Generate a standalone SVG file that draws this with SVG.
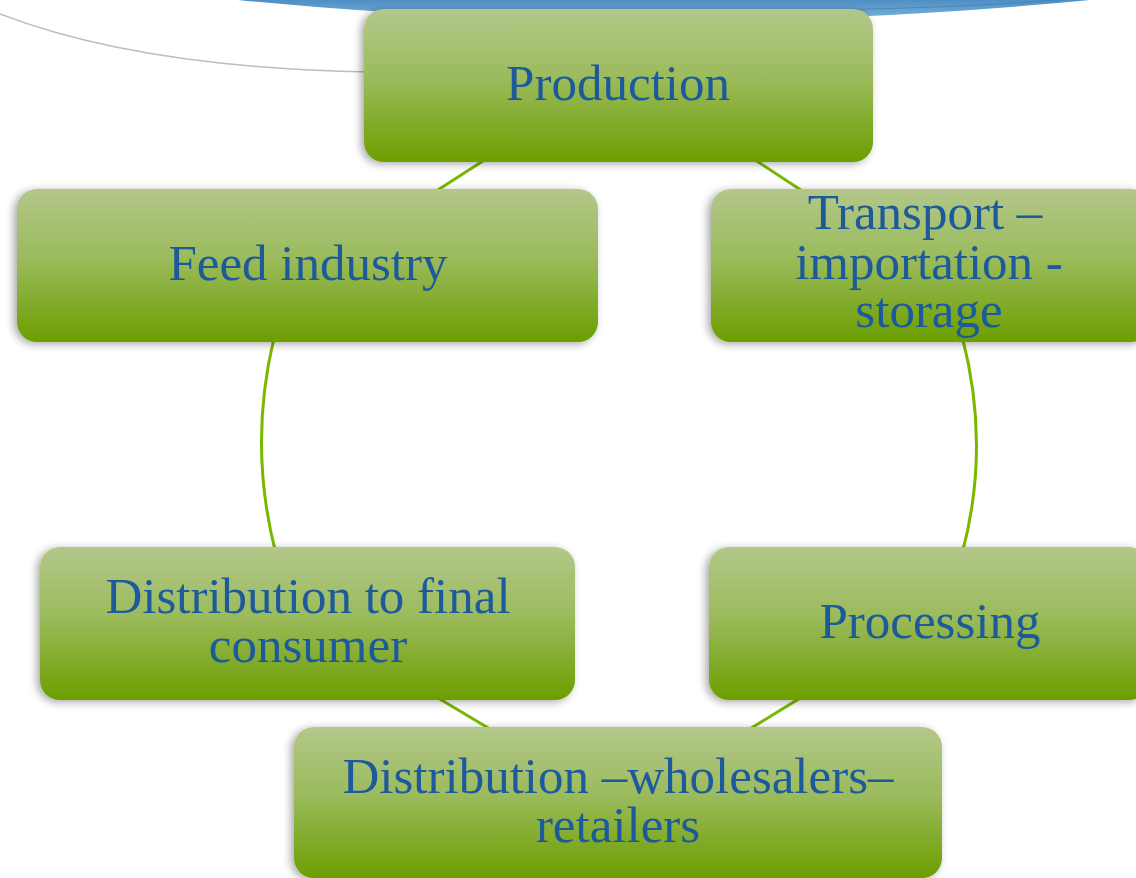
<svg xmlns="http://www.w3.org/2000/svg" width="1136" height="878" viewBox="0 0 1136 878">
  <defs>
    <linearGradient id="g" x1="0" y1="0" x2="0" y2="1">
      <stop offset="0" stop-color="#b3c78a"/>
      <stop offset="0.45" stop-color="#9bbb5c"/>
      <stop offset="1" stop-color="#6c9e00"/>
    </linearGradient>
    <linearGradient id="blue" x1="0" y1="0" x2="0" y2="1">
      <stop offset="0" stop-color="#4f8fc4"/>
      <stop offset="1" stop-color="#7db6e0"/>
    </linearGradient>
    <filter id="sh" x="-10%" y="-20%" width="120%" height="140%">
      <feDropShadow dx="-3" dy="2" stdDeviation="4" flood-color="#000" flood-opacity="0.35"/>
    </filter>
  </defs>
  <style>
    .node rect { fill: url(#g); filter: url(#sh); }
    .node text { font-family: "Liberation Serif", "DejaVu Serif", serif; font-size: 51px; fill: #1d5a9c; text-anchor: middle; }
    .conn path { fill: none; stroke: #7ab800; stroke-width: 3; }
  </style>
  <rect width="1136" height="878" fill="#ffffff"/>
  <g id="background">
    <path d="M 238 0 Q 660 42 1090 0 Z" fill="url(#blue)"/>
    <path d="M 700 10 Q 900 12 1060 0" fill="none" stroke="#3f78a8" stroke-width="1" opacity="0.6"/>
    <path d="M 0 14 Q 140 68 370 72" fill="none" stroke="#bdbdbd" stroke-width="1.5"/>
  </g>
  <g id="connectors" class="conn">
    <path d="M 500 150 L 430 195"/>
    <path d="M 740 150 L 810 196"/>
    <path d="M 274 338 Q 248 446 276 554"/>
    <path d="M 962 336 Q 991 446 962 554"/>
    <path d="M 428 692 L 500 735"/>
    <path d="M 810 692 L 740 735"/>
  </g>
  <g id="node-production" class="node">
    <rect x="364" y="9" width="509" height="153" rx="20"/>
    <text x="618" y="100">Production</text>
  </g>
  <g id="node-feed" class="node">
    <rect x="17" y="189" width="581" height="153" rx="20"/>
    <text x="308" y="280">Feed industry</text>
  </g>
  <g id="node-transport" class="node">
    <rect x="711" y="189" width="440" height="153" rx="20"/>
    <text x="925" y="229">Transport –</text>
    <text x="929" y="279">importation -</text>
    <text x="929" y="327">storage</text>
  </g>
  <g id="node-distribution-final" class="node">
    <rect x="40" y="547" width="535" height="153" rx="20"/>
    <text x="308" y="613">Distribution to final</text>
    <text x="308" y="662">consumer</text>
  </g>
  <g id="node-processing" class="node">
    <rect x="709" y="547" width="440" height="153" rx="20"/>
    <text x="930" y="638">Processing</text>
  </g>
  <g id="node-distribution-wholesale" class="node">
    <rect x="294" y="727" width="648" height="151" rx="20"/>
    <text x="618" y="793">Distribution –wholesalers–</text>
    <text x="618" y="842">retailers</text>
  </g>
</svg>
